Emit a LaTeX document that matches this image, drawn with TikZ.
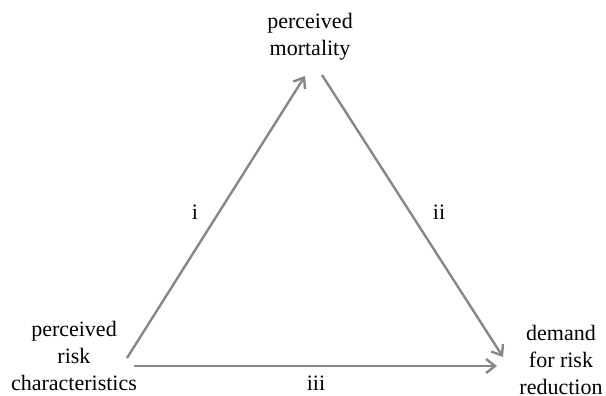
\documentclass[tikz,border=0pt]{standalone}
\usepackage{fontspec}
\setmainfont{Liberation Serif}
\usetikzlibrary{arrows.meta}
\begin{document}
\begin{tikzpicture}[x=1pt,y=-1pt,
  lbl/.style={font=\fontsize{22}{27}\selectfont, align=center, inner sep=0pt},
  arr/.style={draw=arrowgray, line width=2.4pt, -{Straight Barb[length=9pt,width=14pt,line width=2.4pt]}},
  elbl/.style={font=\fontsize{22}{27}\selectfont, inner sep=0pt}]
\definecolor{arrowgray}{RGB}{135,135,135}
\useasboundingbox (0,0) rectangle (606,396);
\node[lbl] (mort) at (310,37) {perceived\\mortality};
\node[lbl] (risk) at (74,356) {perceived\\risk\\characteristics};
\node[lbl] (dem) at (561,360) {demand\\for risk\\reduction};
\coordinate (a1s) at (127,358);
\coordinate (a1e) at (305,76);
\coordinate (a2s) at (322,75);
\coordinate (a2e) at (503,357);
\coordinate (a3s) at (134,366);
\coordinate (a3e) at (497,366);
\draw[arr] (a1s) -- (a1e);
\draw[arr] (a2s) -- (a2e);
\draw[arr] (a3s) -- (a3e);
\node[elbl] (li) at (195,212) {i};
\node[elbl] (lii) at (439,212) {ii};
\node[elbl] (liii) at (316,383) {iii};
\end{tikzpicture}
\end{document}
